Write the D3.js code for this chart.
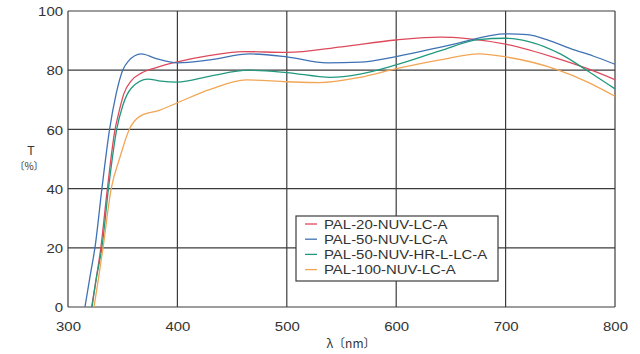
<!DOCTYPE html>
<html><head><meta charset="utf-8">
<script src="https://cdn.jsdelivr.net/npm/d3@7"></script>
<style>body{margin:0;background:#fff}svg{display:block}text{font-family:"Liberation Sans",Arial,sans-serif;fill:#333}</style>
</head><body><svg id="c" width="640" height="354"></svg>
<script>
const seriesNames = ["PAL-20-NUV-LC-A","PAL-50-NUV-LC-A","PAL-50-NUV-HR-L-LC-A","PAL-100-NUV-LC-A"];
const seriesColors = ["#dc4a5c","#3f72b4","#22997e","#f2a655"];
const xTicks = [300,400,500,600,700,800];
const yTicks = [0,20,40,60,80,100];

const redWl = [321.6,326,330,336,343,346,351,358,367,380,400,430,460,500,550,600,640,665,700,747,775,800];
const redT  = [0,10,20,40,60,65,72,76.5,79,80.8,82.8,85,86.3,86,87.9,90.2,91.2,90.7,88.8,84,80.5,76.8];
const blueWl = [315.5,320,325,331,338,344,350,355,367,380,400,430,466,500,537,567,600,655,700,720,740,760,780,800];
const blueT  = [0,10,21,40,60,72,80,83,85.5,84,82.5,83.5,85.5,84.5,82.5,82.7,84.6,89,92.3,92,90,87.2,84.8,82];
const greenWl = [322,326,331,337,344.5,350,358,373,385,400,430,465,500,540,567,600,640,675,700,722,750,774,800];
const greenT  = [0,10,20,40,60,68,74,77,76.3,76,78,80,79.2,77.6,78.7,81.8,86.5,90.3,90.8,89.6,85.5,80,73.7];
const orangeWl = [323.8,328,332,339.5,347,356,366,384,400,430,463,500,530,567,600,640,676,700,747,775,800];
const orangeT  = [0,10,20,40,50,60,64.5,66.5,69,73.5,76.7,76.1,75.8,77.6,80.5,83.5,85.5,84.5,80.2,76,71.2];

const seriesWl = [redWl, blueWl, greenWl, orangeWl];
const seriesT = [redT, blueT, greenT, orangeT];

const svg = d3.select("#c");
const L=68,R=615,T=11,B=307;
const x = d3.scaleLinear().domain([300,800]).range([L,R]);
const y = d3.scaleLinear().domain([0,100]).range([B,T]);
const SX = 1.15;

// grid
const g = svg.append("g");
g.selectAll("line.v").data(xTicks).join("line")
  .attr("x1",d=>x(d)).attr("x2",d=>x(d)).attr("y1",T).attr("y2",B)
  .attr("stroke","#3c3c3c").attr("stroke-width",1.2);
g.selectAll("line.h").data(yTicks).join("line")
  .attr("x1",L).attr("x2",R).attr("y1",d=>y(d)).attr("y2",d=>y(d))
  .attr("stroke","#3c3c3c").attr("stroke-width",1.2);

// axes
const xAxis = svg.append("g").attr("transform",`translate(0,${B})`)
  .call(d3.axisBottom(x).tickValues(xTicks).tickSize(0));
xAxis.select(".domain").remove();
xAxis.selectAll("text").attr("x",0).attr("y",0).attr("dy",null)
  .attr("transform",`translate(0,23.5) scale(${SX},1)`)
  .style("font-size","13px").attr("fill","#333").style("font-family","Liberation Sans, Arial, sans-serif");
const yAxis = svg.append("g").attr("transform",`translate(${L},0)`)
  .call(d3.axisLeft(y).tickValues(yTicks).tickSize(0));
yAxis.select(".domain").remove();
yAxis.selectAll("text").attr("x",0).attr("dy","0.36em")
  .attr("transform",`translate(-5,0) scale(${SX},1)`)
  .style("font-size","13px").attr("fill","#333").style("font-family","Liberation Sans, Arial, sans-serif");

svg.append("text").attr("x",31).attr("y",155).attr("text-anchor","middle").style("font-size","12px").text("T");
svg.append("text").attr("x",29).attr("y",169.5).attr("text-anchor","middle").style("font-size","10px")
  .style("font-family","'Noto Sans CJK JP','Liberation Sans',sans-serif").text("〔%〕");
svg.append("text").attr("x",351).attr("y",348).attr("text-anchor","middle").style("font-size","12px")
  .style("font-family","'Noto Sans CJK JP','Liberation Sans',sans-serif").text("λ〔nm〕");

// lines
const line = d3.line().x(d=>x(d[0])).y(d=>y(d[1])).curve(d3.curveMonotoneX);
seriesWl.forEach((wl,i)=>{
  const pts = wl.map((w,j)=>[w,seriesT[i][j]]);
  svg.append("path").attr("d",line(pts)).attr("fill","none")
    .attr("stroke",seriesColors[i]).attr("stroke-width",1.3);
});

// legend
const lg = svg.append("g");
lg.append("rect").attr("x",296).attr("y",216).attr("width",202).attr("height",65)
  .attr("fill","#fff").attr("stroke","#3c3c3c").attr("stroke-width",1.2);
seriesNames.forEach((n,i)=>{
  const yy = 224+i*15.2;
  lg.append("line").attr("x1",305).attr("x2",317).attr("y1",yy).attr("y2",yy)
    .attr("stroke",seriesColors[i]).attr("stroke-width",1.3);
  lg.append("text").attr("transform",`translate(324,${yy+4.6}) scale(${SX},1)`)
    .style("font-size","13px").text(n);
});
</script></body></html>
